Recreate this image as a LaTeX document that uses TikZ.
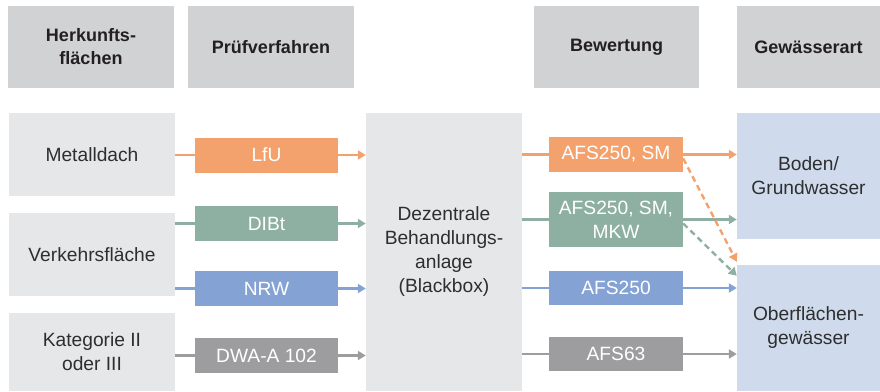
\documentclass[tikz,border=0pt]{standalone}
\usepackage{fontspec}
\setmainfont{Liberation Sans}
\usetikzlibrary{arrows.meta,calc}
\definecolor{hdr}{HTML}{D1D2D4}
\definecolor{lgray}{HTML}{E6E7E8}
\definecolor{orng}{HTML}{F4A26D}
\definecolor{grn}{HTML}{8EB0A3}
\definecolor{blu}{HTML}{84A2D4}
\definecolor{gry}{HTML}{9D9D9F}
\definecolor{lblu}{HTML}{CFDBEC}
\definecolor{txt}{HTML}{2E2E2E}
\definecolor{hdtxt}{HTML}{231F20}
\begin{document}
\begin{tikzpicture}[x=1pt,y=-1pt,
  box/.style={rectangle, inner sep=0pt, align=center, text=txt,
    font=\fontsize{19.2}{24}\selectfont},
  hd/.style={box, fill=hdr, text=hdtxt, minimum height=82pt,
    font=\fontsize{18}{23}\selectfont\bfseries},
  src/.style={box, fill=lgray, minimum width=166pt},
  tag/.style={box, text=white, minimum width=143pt, minimum height=35pt},
  rate/.style={box, text=white, minimum width=134pt},
  conn/.style={line width=2.6pt},
  arr/.style={conn, -{Triangle[length=8pt,width=9pt]}},
  darr/.style={line width=2.4pt, -{Triangle[length=8pt,width=9pt]}, dash pattern=on 6pt off 4pt}
]
\useasboundingbox (0,0) rectangle (880,391);
% headers
\node[hd, minimum width=166pt] (h1) at (91,47) {Herkunfts-\\flächen};
\node[hd, minimum width=166pt] (h2) at (271,47) {Prüfverfahren};
\node[hd, minimum width=165pt] (h3) at (616.5,47) {Bewertung};
\node[hd, minimum width=143pt] (h4) at (808.5,47) {Gewässerart};
% sources
\node[src, minimum height=83pt] (s1) at (92,154.5) {Metalldach};
\node[src, minimum height=83pt] (s2) at (92,254.5) {Verkehrsfläche};
\node[src, minimum height=78pt] (s3) at (92,352) {Kategorie II\\oder III};
% test methods
\node[tag, fill=orng] (p1) at (266.5,155) {LfU};
\node[tag, fill=grn]  (p2) at (266.5,223.5) {DIBt};
\node[tag, fill=blu]  (p3) at (266.5,288.5) {NRW};
\node[tag, fill=gry]  (p4) at (266.5,355.5) {DWA-A 102};
% black box
\node[box, fill=lgray, minimum width=156pt, minimum height=278pt] (bb) at (444,252)
  {Dezentrale\\Behandlungs-\\anlage\\(Blackbox)};
% ratings
\node[rate, fill=orng, minimum height=35pt] (r1) at (616,154.5) {AFS250, SM};
\node[rate, fill=grn, minimum height=55pt] (r2) at (616,219.5) {AFS250, SM,\\MKW};
\node[rate, fill=blu, minimum height=34pt] (r3) at (616,288) {AFS250};
\node[rate, fill=gry, minimum height=34pt] (r4) at (616,354) {AFS63};
% water types
\node[box, fill=lblu, minimum width=143pt, minimum height=126pt] (w1) at (808.5,176) {Boden/\\Grundwasser};
\node[box, fill=lblu, minimum width=143pt, minimum height=126pt] (w2) at (808.5,328) {Oberflächen-\\gewässer};
% connectors left
\draw[conn, orng] (s1.east |- p1) -- (p1.west);
\draw[arr, orng] (p1.east) -- (p1 -| bb.west);
\draw[conn, grn] (s2.east |- p2) -- (p2.west);
\draw[arr, grn] (p2.east) -- (p2 -| bb.west);
\draw[conn, blu] (s2.east |- p3) -- (p3.west);
\draw[arr, blu] (p3.east) -- (p3 -| bb.west);
\draw[conn, gry] (s3.east |- p4) -- (p4.west);
\draw[arr, gry] (p4.east) -- (p4 -| bb.west);
% connectors right
\draw[conn, orng] (bb.east |- r1) -- (r1.west);
\draw[arr, orng] (r1.east) -- (r1 -| w1.west);
\draw[conn, grn] (bb.east |- r2) -- (r2.west);
\draw[arr, grn] (r2.east) -- (r2 -| w1.west);
\draw[conn, blu] (bb.east |- r3) -- (r3.west);
\draw[arr, blu] (r3.east) -- (r3 -| w2.west);
\draw[conn, gry] (bb.east |- r4) -- (r4.west);
\draw[arr, gry] (r4.east) -- (r4 -| w2.west);
% dashed cross arrows
\coordinate (o1) at ($(r1.east)+(0,4)$);
\coordinate (o2) at ($(w2.north west)+(0,-3)$);
\coordinate (g1) at ($(r2.east)+(0,4)$);
\coordinate (g2) at ($(w2.north west)+(0,11)$);
\draw[darr, orng] (o1) -- (o2);
\draw[darr, grn] (g1) -- (g2);
\end{tikzpicture}
\end{document}
